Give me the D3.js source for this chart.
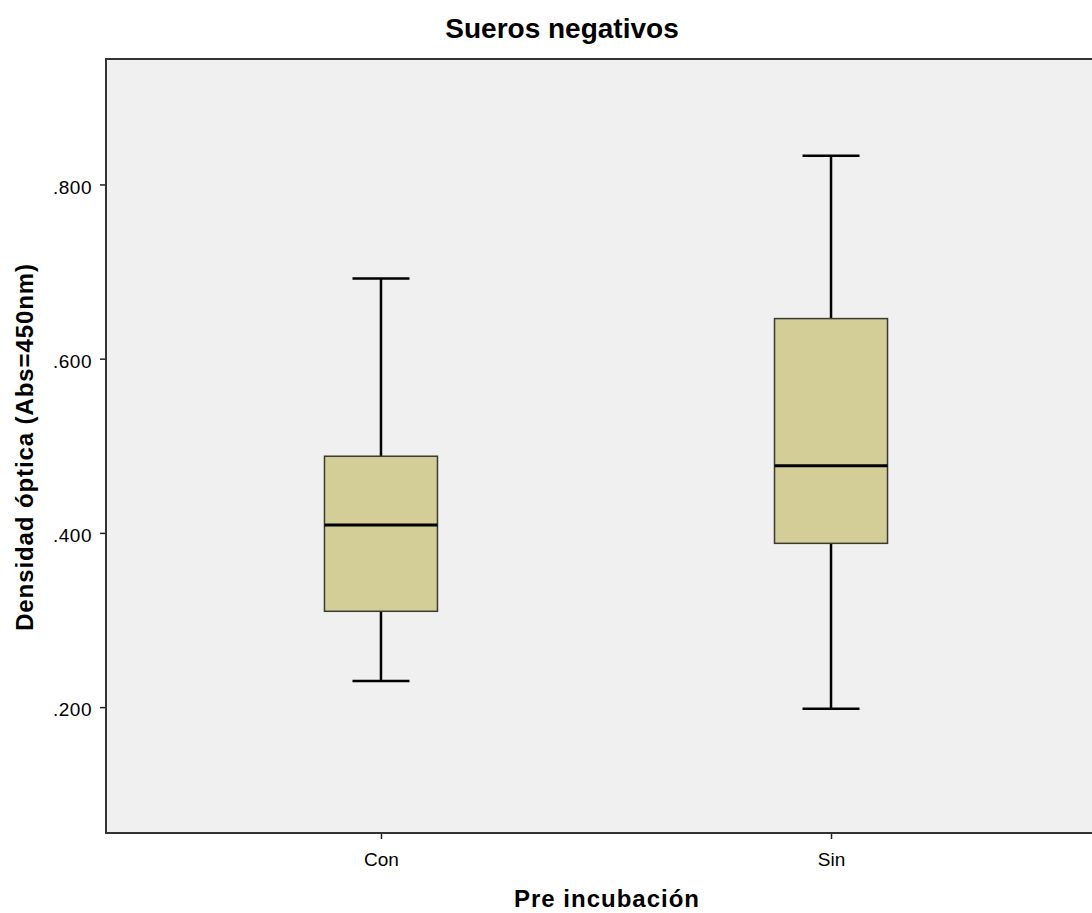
<!DOCTYPE html>
<html>
<head>
<meta charset="utf-8">
<script src="https://cdn.jsdelivr.net/npm/d3@7"></script>
<style>
  body { margin: 0; background: #fff; }
  svg text { font-family: "Liberation Sans", Arial, sans-serif; }
</style>
</head>
<body>
<svg class="box-chart" width="1092" height="913"></svg>
<script>
// groups and five-number summaries
const groups = ["Con", "Sin"];
const whiskerLow = [0.230, 0.198];
const q1 = [0.310, 0.388];
const median = [0.409, 0.477];
const q3 = [0.488, 0.646];
const whiskerHigh = [0.692, 0.833];
const yTicks = [0.2, 0.4, 0.6, 0.8];

function drawBoxPlot() {
    const svg = d3.select("svg.box-chart");
    const margin = {top: 59, right: -14, bottom: 80, left: 106};
    const width = +svg.attr("width") - margin.left - margin.right;
    const height = +svg.attr("height") - margin.top - margin.bottom;
    const g = svg.append("g").attr("transform", `translate(${margin.left}, ${margin.top})`);

    const x = d3.scalePoint().domain(groups).range([0, width]).padding(0.611);
    const y = d3.scaleLinear().domain([0.0555, 0.944]).range([height, 0]);

    const data = groups.map((d, i) => ({
        group: d, lo: whiskerLow[i], q1: q1[i], med: median[i], q3: q3[i], hi: whiskerHigh[i]
    }));

    g.append("rect")
        .attr("width", width)
        .attr("height", height)
        .attr("fill", "#f0f0f0");

    const boxW = 113, capW = 57;

    const box = g.selectAll(".box").data(data).enter().append("g").attr("class", "box");

    box.append("line")
        .attr("x1", d => x(d.group)).attr("x2", d => x(d.group))
        .attr("y1", d => y(d.hi)).attr("y2", d => y(d.q3))
        .attr("stroke", "#000").attr("stroke-width", 2.5);
    box.append("line")
        .attr("x1", d => x(d.group)).attr("x2", d => x(d.group))
        .attr("y1", d => y(d.q1)).attr("y2", d => y(d.lo))
        .attr("stroke", "#000").attr("stroke-width", 2.5);
    box.append("line")
        .attr("x1", d => x(d.group) - capW / 2).attr("x2", d => x(d.group) + capW / 2)
        .attr("y1", d => y(d.hi)).attr("y2", d => y(d.hi))
        .attr("stroke", "#000").attr("stroke-width", 2.5);
    box.append("line")
        .attr("x1", d => x(d.group) - capW / 2).attr("x2", d => x(d.group) + capW / 2)
        .attr("y1", d => y(d.lo)).attr("y2", d => y(d.lo))
        .attr("stroke", "#000").attr("stroke-width", 2.5);
    box.append("rect")
        .attr("x", d => x(d.group) - boxW / 2)
        .attr("y", d => y(d.q3))
        .attr("width", boxW)
        .attr("height", d => y(d.q1) - y(d.q3))
        .attr("fill", "#d3ce98")
        .attr("stroke", "#3a3a32").attr("stroke-width", 1.5);
    box.append("line")
        .attr("x1", d => x(d.group) - boxW / 2).attr("x2", d => x(d.group) + boxW / 2)
        .attr("y1", d => y(d.med)).attr("y2", d => y(d.med))
        .attr("stroke", "#000").attr("stroke-width", 3);

    const fmt = v => d3.format(".3f")(v).replace(/^0/, "");

    g.append("g")
        .attr("class", "axis axis--x")
        .attr("transform", `translate(0, ${height})`)
        .call(d3.axisBottom(x).tickSize(6).tickSizeOuter(0))
        .call(a => a.select(".domain").remove())
        .call(a => a.selectAll("line").attr("stroke", "#222").attr("stroke-width", 1.5))
        .call(a => a.selectAll("text").attr("font-size", 19).attr("fill", "#000")
            .attr("y", 33).attr("dy", 0));

    g.append("g")
        .attr("class", "axis axis--y")
        .call(d3.axisLeft(y).tickValues(yTicks).tickFormat(fmt).tickSize(6).tickSizeOuter(0))
        .call(a => a.select(".domain").remove())
        .call(a => a.selectAll("line").attr("stroke", "#222").attr("stroke-width", 1.5))
        .call(a => a.selectAll("text").attr("font-size", 19).attr("fill", "#000")
            .attr("x", -14).attr("dy", "0.45em").attr("letter-spacing", 0.5));

    // frame
    g.append("rect")
        .attr("width", width)
        .attr("height", height)
        .attr("fill", "none")
        .attr("stroke", "#333")
        .attr("stroke-width", 2);

    svg.append("text")
        .attr("x", 562).attr("y", 38)
        .attr("text-anchor", "middle")
        .attr("font-size", 28).attr("font-weight", "bold")
        .text("Sueros negativos");

    svg.append("text")
        .attr("x", 607).attr("y", 907)
        .attr("text-anchor", "middle")
        .attr("font-size", 24).attr("font-weight", "bold")
        .attr("letter-spacing", 1)
        .text("Pre incubación");

    svg.append("text")
        .attr("transform", "translate(33, 447) rotate(-90)")
        .attr("text-anchor", "middle")
        .attr("font-size", 24).attr("font-weight", "bold")
        .attr("letter-spacing", 0.9)
        .text("Densidad óptica (Abs=450nm)");
}

drawBoxPlot();
</script>
</body>
</html>
